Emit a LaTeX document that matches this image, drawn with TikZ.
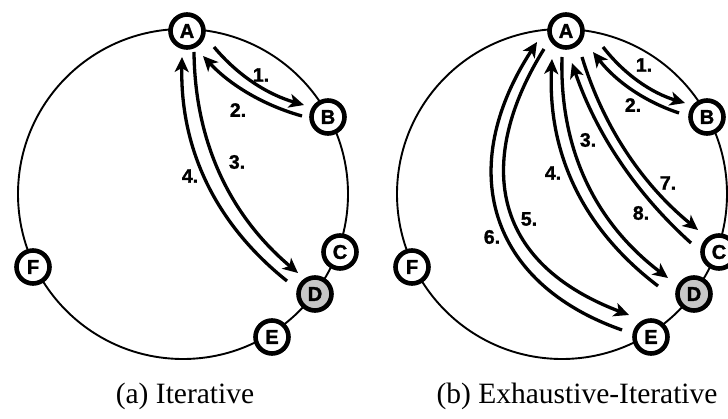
\documentclass[tikz,border=0pt]{standalone}
\usepackage{fontspec}
\setmainfont{Liberation Serif}
\newfontfamily\lsans{Liberation Sans}[BoldFeatures={FakeBold=1.5}]
\usetikzlibrary{arrows.meta}
\begin{document}
\begin{tikzpicture}[x=1pt,y=-1pt,
  peer/.style={circle,draw,line width=4.6pt,minimum size=33pt,inner sep=0pt,fill=white,
    font=\lsans\bfseries\fontsize{20}{20}\selectfont},
  peerd/.style={peer,fill=black!22},
  msg/.style={line width=3.3pt,-{Stealth[length=15pt,width=14pt,inset=4pt]}},
  lbl/.style={font=\lsans\bfseries\fontsize{19.5}{19.5}\selectfont,inner sep=0pt},
  ringline/.style={line width=1.9pt},
  captext/.style={font=\fontsize{29.5}{31}\selectfont,anchor=base,inner sep=0pt}]
\clip (0,0) rectangle (728,419);
% ---------- (a) ----------
\draw[ringline] (183,194) circle[radius=165pt];
\node[peer]  (lA) at (187,31)  {A};
\node[peer]  (lB) at (328,117) {B};
\node[peer]  (lC) at (340,252) {C};
\node[peerd] (lD) at (315,294) {D};
\node[peer]  (lE) at (272,337) {E};
\node[peer]  (lF) at (33,267)  {F};
\coordinate (l1s) at (214,47);  \coordinate (l1e) at (304,105);
\coordinate (l2s) at (302,116); \coordinate (l2e) at (203,56);
\coordinate (l3s) at (194,52);  \coordinate (l3e) at (298,273);
\coordinate (l4s) at (287,281); \coordinate (l4e) at (182,57);
\draw[msg] (l1s) .. controls (237.7,75.4) and (267.3,94.4) .. (l1e);
\draw[msg] (l2s) .. controls (263.4,105.2) and (230.4,85.2) .. (l2e);
\draw[msg] (l3s) .. controls (194.9,141.6) and (229.5,215.2) .. (l3e);
\draw[msg] (l4s) .. controls (215.2,223.6) and (180.2,149.0) .. (l4e);
\node[lbl] (n1) at (261,75)  {1.};
\node[lbl] (n2) at (238,110) {2.};
\node[lbl] (n3) at (237,162) {3.};
\node[lbl] (n4) at (190,176) {4.};
\node[captext] (capa) at (185,403) {(a) Iterative};
% ---------- (b) ----------
\draw[ringline] (562,194) circle[radius=165pt];
\node[peer]  (rA) at (566,31)  {A};
\node[peer]  (rB) at (707,117) {B};
\node[peer]  (rC) at (719,252) {C};
\node[peerd] (rD) at (694,294) {D};
\node[peer]  (rE) at (651,337) {E};
\node[peer]  (rF) at (412,267) {F};
\coordinate (r1s) at (603,47);  \coordinate (r1e) at (685,103);
\coordinate (r2s) at (679,113); \coordinate (r2e) at (593,52);
\coordinate (r3s) at (562,57);  \coordinate (r3e) at (668,278);
\coordinate (r4s) at (658,286); \coordinate (r4e) at (552,59);
\coordinate (r5s) at (544,49);  \coordinate (r5e) at (629,315);
\coordinate (r6s) at (622,330); \coordinate (r6e) at (537,42);
\coordinate (r7s) at (582,57);  \coordinate (r7e) at (698,230);
\coordinate (r8s) at (691,243); \coordinate (r8e) at (572,63);
\draw[msg] (r1s) .. controls (624.3,74.5) and (651.7,93.1) .. (r1e);
\draw[msg] (r2s) .. controls (644.1,101.4) and (615.5,81.0) .. (r2e);
\draw[msg] (r3s) .. controls (559.4,148.8) and (594.8,222.4) .. (r3e);
\draw[msg] (r4s) .. controls (582.8,228.9) and (547.4,153.3) .. (r4e);
\draw[msg] (r5s) .. controls (480.4,151) and (482,259) .. (r5e);
\draw[msg] (r6s) .. controls (488,283) and (455,168) .. (r6e);
\draw[msg] (r7s) .. controls (603.2,126.4) and (641.8,184.0) .. (r7e);
\draw[msg] (r8s) .. controls (635.7,193.3) and (596.1,133.3) .. (r8e);
\node[lbl] (m1) at (644,65)  {1.};
\node[lbl] (m2) at (633,105) {2.};
\node[lbl] (m3) at (588,140) {3.};
\node[lbl] (m4) at (553,173) {4.};
\node[lbl] (m5) at (529,219) {5.};
\node[lbl] (m6) at (492,237) {6.};
\node[lbl] (m7) at (668,183) {7.};
\node[lbl] (m8) at (641,213) {8.};
\node[captext] (capb) at (577,403) {(b) Exhaustive-Iterative};
\end{tikzpicture}
\end{document}
